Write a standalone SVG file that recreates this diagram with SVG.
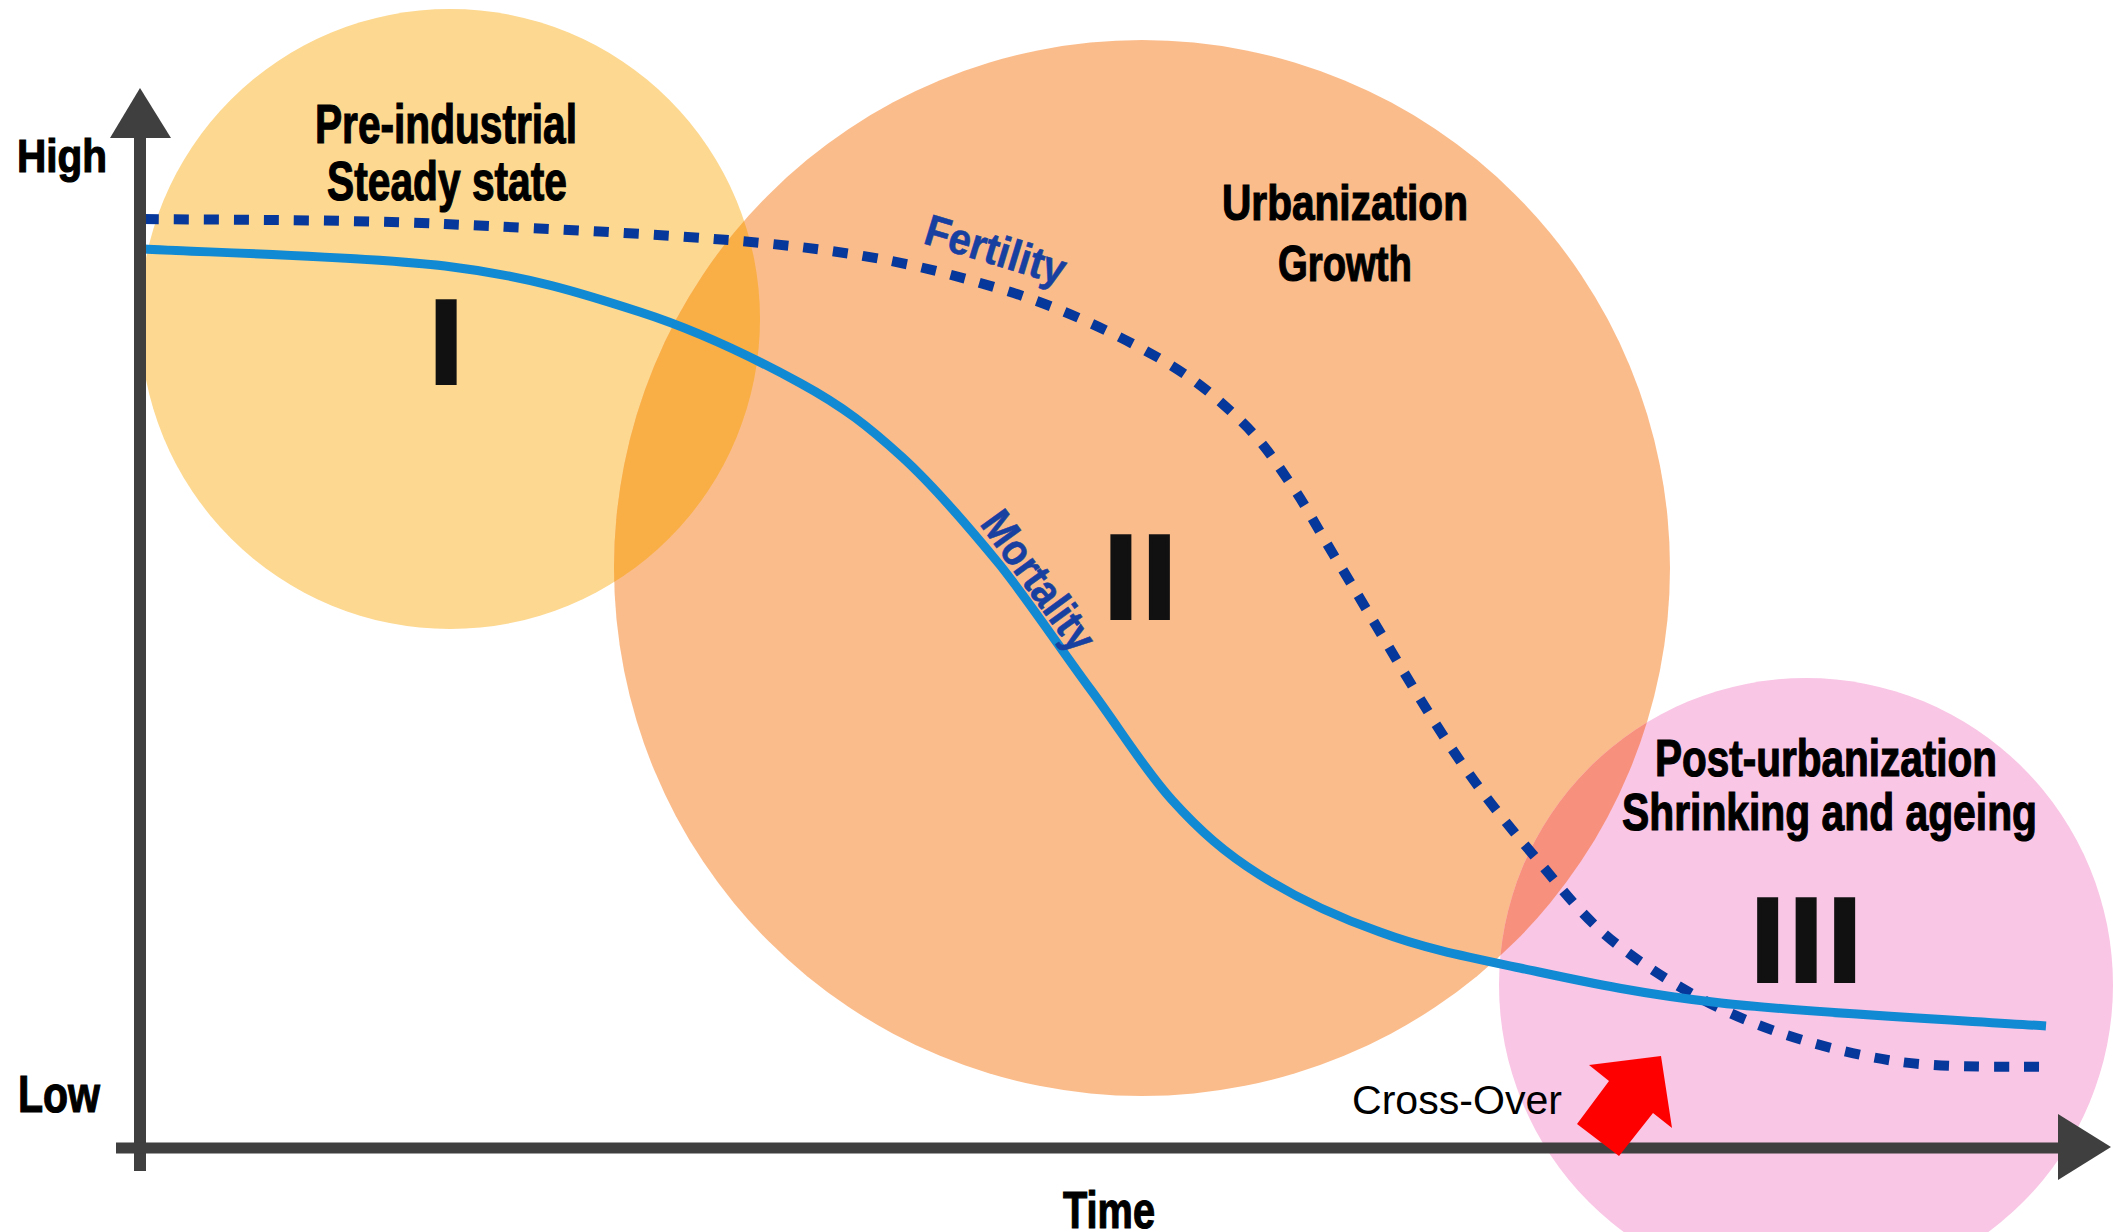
<svg xmlns="http://www.w3.org/2000/svg" width="2113" height="1232" viewBox="0 0 2113 1232">
<style>
.title{font-family:"Liberation Sans",Arial,sans-serif;font-weight:bold;fill:#000;stroke:#000;stroke-width:1.2px;}
.num{font-family:"Liberation Sans",Arial,sans-serif;font-weight:bold;font-size:118px;fill:#111;stroke:#111;stroke-width:4px;letter-spacing:5.7px;text-anchor:middle;}
.curvelabel{font-family:"Liberation Sans",Arial,sans-serif;font-weight:bold;fill:#1740A0;stroke:#1740A0;stroke-width:0.6px;font-size:44px;}
.axis{stroke:#3f3f3f;fill:none;}
.fert{fill:none;stroke:#06379A;stroke-width:10;stroke-dasharray:15 15;}
.mort{fill:none;stroke:#1189D3;stroke-width:9;stroke-linecap:butt;}
</style>
<defs>
<clipPath id="clipI"><circle cx="450" cy="319" r="310"/></clipPath>
<clipPath id="clipII"><circle cx="1142" cy="568" r="528"/></clipPath>
</defs>
<rect width="2113" height="1232" fill="#fff"/>

<g id="phase-I">
<circle cx="450" cy="319" r="310" fill="#FDD890"/>
<text class="title" x="315" y="143" font-size="55" textLength="262" lengthAdjust="spacingAndGlyphs">Pre-industrial</text>
<text class="title" x="327" y="200" font-size="55" textLength="240" lengthAdjust="spacingAndGlyphs">Steady state</text>
<text class="num" x="449" y="383">I</text>
</g>

<g id="phase-II">
<circle cx="1142" cy="568" r="528" fill="#FBBC8B"/>
<circle cx="1142" cy="568" r="528" fill="#F9AF45" clip-path="url(#clipI)"/>
<text class="title" x="1222" y="220" font-size="50" textLength="246" lengthAdjust="spacingAndGlyphs">Urbanization</text>
<text class="title" x="1278" y="281" font-size="50" textLength="134" lengthAdjust="spacingAndGlyphs">Growth</text>
<text class="num" x="1143" y="618">II</text>
</g>

<g id="phase-III">
<circle cx="1806" cy="985" r="307" fill="#F9C6E5"/>
<circle cx="1806" cy="985" r="307" fill="#F7907C" clip-path="url(#clipII)"/>
<text class="title" x="1655" y="776" font-size="52" textLength="342" lengthAdjust="spacingAndGlyphs">Post-urbanization</text>
<text class="title" x="1622" y="830" font-size="52" textLength="415" lengthAdjust="spacingAndGlyphs">Shrinking and ageing</text>
<text class="num" x="1809" y="981">III</text>
</g>

<g id="connectors">
<g id="fertility">
<path class="fert" d="M144,219 C194,220 336,219 445,224 C554,229 707,236 800,247 C893,258 944,272 1004,290 C1063,308 1118,335 1157,357 C1196,379 1218,399 1240,420 C1262,441 1273,458 1290,483 C1307,507 1314,523 1341,567 C1368,611 1418,698 1450,746 C1482,794 1507,824 1535,857 C1563,890 1584,919 1619,946 C1654,973 1700,1001 1746,1020 C1792,1039 1844,1053 1894,1061 C1944,1069 2021,1066 2046,1067"/>
<text class="curvelabel" transform="translate(922,243) rotate(17)" textLength="145" lengthAdjust="spacingAndGlyphs">Fertility</text>
</g>
<g id="mortality">
<path class="mort" d="M144,249 C194,252 362,256 445,266 C528,276 581,293 640,312 C699,331 756,359 800,383 C844,407 869,427 902,457 C935,487 968,526 1000,565 C1031,604 1062,651 1091,690 C1120,729 1144,769 1172,800 C1200,831 1225,853 1260,875 C1295,897 1337,917 1380,932 C1423,948 1463,956 1520,968 C1577,980 1633,993 1721,1003 C1809,1013 1992,1022 2046,1026"/>
<text class="curvelabel" transform="translate(979,524) rotate(54)" textLength="162" lengthAdjust="spacingAndGlyphs">Mortality</text>
</g>
</g>

<g id="axes">
<line class="axis" x1="140" y1="130" x2="140" y2="1171" stroke-width="12"/>
<polygon points="140,88 171,138 110,138" fill="#3f3f3f"/>
<line class="axis" x1="116" y1="1148" x2="2062" y2="1148" stroke-width="11"/>
<polygon points="2111,1147 2058,1114 2058,1180" fill="#3f3f3f"/>
<text class="title" x="17" y="172" font-size="47" textLength="90" lengthAdjust="spacingAndGlyphs">High</text>
<text class="title" x="18" y="1112" font-size="52" textLength="82" lengthAdjust="spacingAndGlyphs">Low</text>
<text class="title" x="1063" y="1228" font-size="52" textLength="92" lengthAdjust="spacingAndGlyphs">Time</text>
</g>

<g id="crossover">
<polygon points="1589,1065 1661,1056 1672,1128 1653,1113 1619,1156 1577,1124 1609,1081" fill="#FF0000"/>
<text x="1352" y="1114" font-family="Liberation Sans, Arial, sans-serif" font-size="41" fill="#000" textLength="210" lengthAdjust="spacingAndGlyphs">Cross-Over</text>
</g>
</svg>
